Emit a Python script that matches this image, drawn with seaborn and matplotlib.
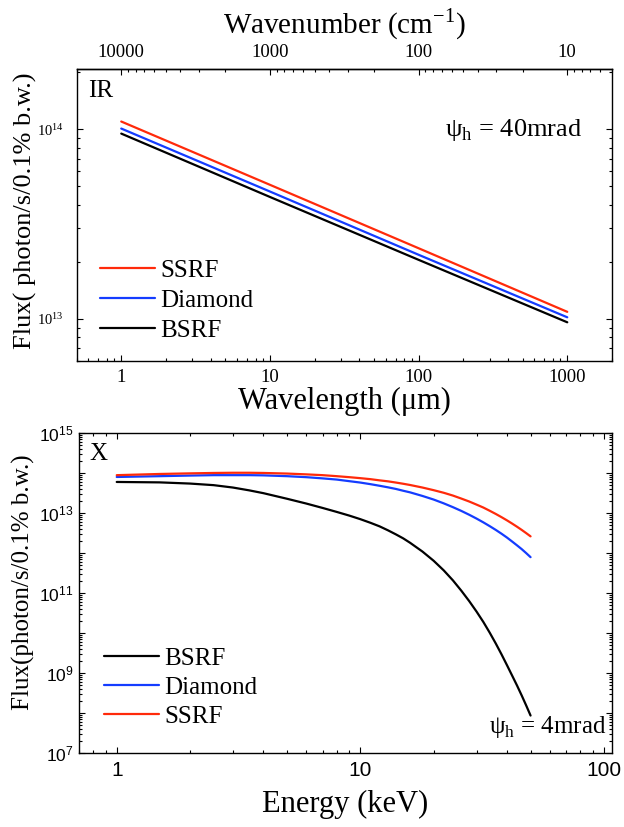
import numpy as np
import pandas as pd
import matplotlib
matplotlib.use("Agg")
import matplotlib.pyplot as plt
from matplotlib.ticker import LogLocator, FuncFormatter, NullFormatter, FixedLocator
import seaborn as sns

# ---------------- data ----------------
sources_ir = ["SSRF", "Diamond", "BSRF"]
wavelength_um = [1, 10, 100, 1000]
ssrf_ir = [1.10e14, 5.1e13, 2.36e13, 1.09e13]
diamond_ir = [1.01e14, 4.7e13, 2.18e13, 1.02e13]
bsrf_ir = [9.5e13, 4.4e13, 2.05e13, 9.6e12]

wavenumber_ticks = [10000, 1000, 100, 10]

sources_x = ["BSRF", "Diamond", "SSRF"]
energy_kev = [1, 1.5, 2, 2.5, 3, 3.5, 4, 5, 6, 7, 8, 9, 10, 11, 12, 13, 14, 15, 16,
              18, 20, 22, 24, 26, 28, 30, 32, 34, 36, 38, 40, 42, 44, 46, 48, 50]
bsrf_x = [5.89e13, 5.75e13, 5.37e13, 4.90e13, 4.27e13, 3.63e13, 3.09e13, 2.24e13,
          1.70e13, 1.32e13, 1.05e13, 8.51e12, 6.92e12, 5.62e12, 4.57e12, 3.63e12,
          2.88e12, 2.29e12, 1.78e12, 1.07e12, 6.31e11, 3.63e11, 2.04e11, 1.12e11,
          6.17e10, 3.39e10, 1.86e10, 1.00e10, 5.37e9, 2.88e9, 1.55e9, 8.51e8,
          4.79e8, 2.69e8, 1.51e8, 8.51e7]
diamond_x = [7.85e13, 8.22e13, 8.51e13, 8.71e13, 8.71e13, 8.71e13, 8.61e13, 8.22e13,
             7.76e13, 7.24e13, 6.76e13, 6.17e13, 5.69e13, 5.19e13, 4.73e13, 4.32e13,
             3.94e13, 3.55e13, 3.24e13, 2.63e13, 2.14e13, 1.72e13, 1.38e13, 1.11e13,
             8.91e12, 7.16e12, 5.75e12, 4.62e12, 3.72e12, 2.99e12, 2.40e12, 1.91e12,
             1.53e12, 1.23e12, 9.77e11, 7.76e11]
ssrf_x = [8.71e13, 9.33e13, 9.66e13, 9.89e13, 1.00e14, 1.00e14, 9.89e13, 9.55e13,
          9.12e13, 8.71e13, 8.22e13, 7.76e13, 7.33e13, 6.92e13, 6.46e13, 6.10e13,
          5.69e13, 5.31e13, 4.95e13, 4.27e13, 3.67e13, 3.16e13, 2.69e13, 2.26e13,
          1.91e13, 1.60e13, 1.35e13, 1.12e13, 9.33e12, 7.76e12, 6.46e12, 5.37e12,
          4.47e12, 3.72e12, 3.09e12, 2.57e12]

colors = {"SSRF": "#ff2a0a", "Diamond": "#143cff", "BSRF": "#000000"}

# ---------------- style ----------------
sns.set_theme(style="ticks", rc={
    "axes.edgecolor": "black", "axes.labelcolor": "black", "text.color": "black",
    "xtick.color": "black", "ytick.color": "black",
    "xtick.direction": "in", "ytick.direction": "in",
    "axes.linewidth": 1.0,
})
plt.rcParams["font.family"] = ["Liberation Serif", "DejaVu Serif"]
SANS = "Liberation Sans"

fig = plt.figure(figsize=(6.24, 8.27), dpi=100)
ax1 = fig.add_axes([0.1226, 0.5635, 0.8582, 0.3525])
ax2 = fig.add_axes([0.1266, 0.0898, 0.8542, 0.3869])

minor_subs = np.arange(2, 10)

# ---------------- top panel (IR) ----------------
df_ir = pd.DataFrame({
    "wl": wavelength_um * 3,
    "flux": ssrf_ir + diamond_ir + bsrf_ir,
    "src": [s for s in sources_ir for _ in wavelength_um],
})
ax1.set_xscale("log")
ax1.set_yscale("log")
sns.lineplot(data=df_ir, x="wl", y="flux", hue="src", hue_order=sources_ir,
             palette=colors, linewidth=1.6, ax=ax1)
ax1.set_xlim(0.5, 2000)
ax1.set_ylim(6e12, 2.07e14)

ax1.xaxis.set_major_locator(LogLocator(base=10, numticks=10))
ax1.xaxis.set_minor_locator(LogLocator(base=10, subs=minor_subs, numticks=10))
ax1.xaxis.set_major_formatter(FuncFormatter(lambda v, p: f"{v:g}"))
ax1.xaxis.set_minor_formatter(NullFormatter())
ax1.yaxis.set_major_locator(LogLocator(base=10, numticks=10))
ax1.yaxis.set_minor_locator(LogLocator(base=10, subs=minor_subs, numticks=10))
ax1.yaxis.set_major_formatter(FuncFormatter(
    lambda v, p: r"$\mathregular{10^{%d}}$" % int(round(np.log10(v)))))
ax1.yaxis.set_minor_formatter(NullFormatter())
ax1.tick_params(which="both", direction="in", top=False, right=True, width=0.8)
ax1.tick_params(which="major", length=4.5)
ax1.tick_params(which="minor", length=2.5)
ax1.tick_params(axis="x", labelsize=13.5, pad=6)
ax1.tick_params(axis="y", labelsize=10.5, pad=9)

inv = lambda x: 1e4 / np.asarray(x, dtype=float)
secax = ax1.secondary_xaxis("top", functions=(inv, inv))
sec_minor = [k * 10.0 ** n for n in range(0, 5) for k in minor_subs
             if 5 <= k * 10.0 ** n <= 20000]
secax.xaxis.set_major_locator(FixedLocator(wavenumber_ticks))
secax.xaxis.set_minor_locator(FixedLocator(sec_minor))
secax.xaxis.set_major_formatter(FuncFormatter(lambda v, p: f"{v:g}"))
secax.xaxis.set_minor_formatter(NullFormatter())
secax.tick_params(which="both", direction="in", width=0.8, labelsize=13.5, pad=6)
secax.tick_params(which="major", length=4.5)
secax.tick_params(which="minor", length=2.5)
secax.set_xlabel(r"Wavenumber (cm$^{\mathregular{-1}}$)", fontsize=21, labelpad=8)

ax1.set_xlabel("Wavelength (μm)", fontsize=22, va="center")
ax1.xaxis.set_label_coords(0.5, -0.14)
ax1.set_ylabel("Flux( photon/s/0.1% b.w.)", fontsize=19, va="center")
ax1.yaxis.set_label_coords(-0.096, 0.515)

sns.move_legend(ax1, loc="center left", bbox_to_anchor=(0.0438, 0.2065),
                frameon=False, title=None, fontsize=18, handlelength=2.2,
                handletextpad=0.2, labelspacing=0.3, borderpad=0, borderaxespad=0)
ax1.text(0.0215, 0.906, "IR", transform=ax1.transAxes, fontsize=18, va="baseline")
ax1.text(0.945, 0.772, r"ψ$_{\mathregular{h}}$ = 40mrad", transform=ax1.transAxes,
         fontsize=19, ha="right", va="baseline")

# ---------------- bottom panel (X) ----------------
df_x = pd.DataFrame({
    "E": energy_kev * 3,
    "flux": bsrf_x + diamond_x + ssrf_x,
    "src": [s for s in sources_x for _ in energy_kev],
})
ax2.set_xscale("log")
ax2.set_yscale("log")
sns.lineplot(data=df_x, x="E", y="flux", hue="src", hue_order=sources_x,
             palette=colors, linewidth=1.6, ax=ax2)
ax2.set_xlim(0.7, 108)
ax2.set_ylim(1e7, 1e15)

ax2.xaxis.set_major_locator(LogLocator(base=10, numticks=10))
ax2.xaxis.set_minor_locator(LogLocator(base=10, subs=minor_subs, numticks=10))
ax2.xaxis.set_major_formatter(FuncFormatter(lambda v, p: f"{v:g}"))
ax2.xaxis.set_minor_formatter(NullFormatter())
ax2.yaxis.set_major_locator(LogLocator(base=10, numticks=20))
ax2.yaxis.set_minor_locator(LogLocator(base=10, subs=minor_subs, numticks=20))


def ylab(v, p):
    e = int(round(np.log10(v)))
    return r"$\mathregular{10^{%d}}$" % e if e % 2 == 1 else ""


ax2.yaxis.set_major_formatter(FuncFormatter(ylab))
ax2.yaxis.set_minor_formatter(NullFormatter())
ax2.tick_params(which="both", direction="in", top=True, right=True, width=0.8,
                labelfontfamily=SANS)
ax2.tick_params(which="major", length=4.5)
ax2.tick_params(which="minor", length=2.5)
ax2.tick_params(axis="x", labelsize=15, pad=6)
ax2.tick_params(axis="y", labelsize=12.5, pad=4)

ax2.set_xlabel("Energy (keV)", fontsize=22, va="center")
ax2.xaxis.set_label_coords(0.5, -0.163)
ax2.set_ylabel("Flux(photon/s/0.1% b.w.)", fontsize=18, va="center")
ax2.yaxis.set_label_coords(-0.105, 0.533)

sns.move_legend(ax2, loc="center left", bbox_to_anchor=(0.047, 0.204),
                frameon=False, title=None, fontsize=18, handlelength=2.2,
                handletextpad=0.2, labelspacing=0.26, borderpad=0, borderaxespad=0)
ax2.text(0.019, 0.915, "X", transform=ax2.transAxes, fontsize=18, va="baseline")
ax2.text(0.989, 0.0616, r"ψ$_{\mathregular{h}}$ = 4mrad", transform=ax2.transAxes,
         fontsize=18, ha="right", va="baseline")

fig.savefig("out.png", dpi=100)
